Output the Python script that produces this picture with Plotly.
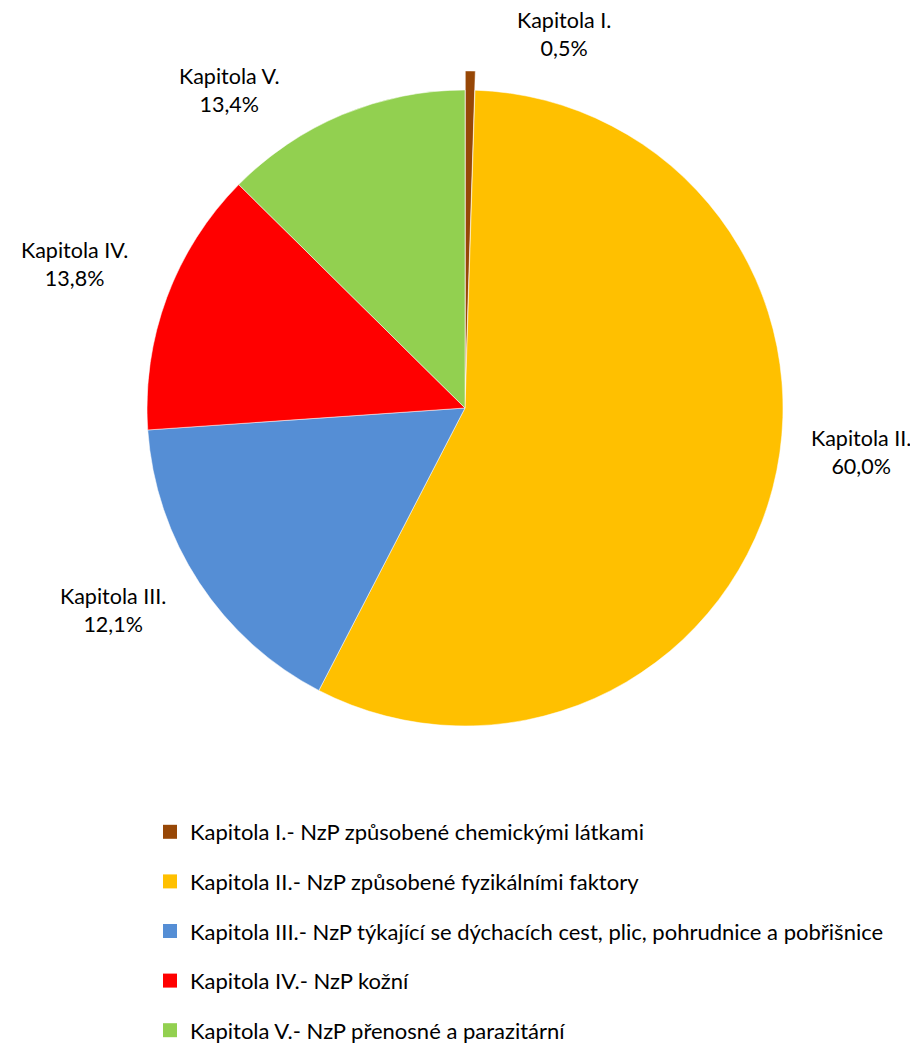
import plotly.graph_objects as go

# Data
short_labels = ["Kapitola I.", "Kapitola II.", "Kapitola III.", "Kapitola IV.", "Kapitola V."]
legend_labels = [
    "Kapitola I.- NzP způsobené chemickými látkami",
    "Kapitola II.- NzP způsobené fyzikálními faktory",
    "Kapitola III.- NzP týkající se dýchacích cest, plic, pohrudnice a pobřišnice",
    "Kapitola IV.- NzP kožní",
    "Kapitola V.- NzP přenosné a parazitární",
]
# slice sizes as drawn in the picture (%)
slice_values = [0.5, 57.1, 16.3, 13.5, 12.6]
# percentages printed on the data labels
label_percents = ["0,5%", "60,0%", "12,1%", "13,8%", "13,4%"]
colors = ["#974706", "#FFC000", "#558ED5", "#FF0000", "#92D050"]
pulls = [0.06, 0, 0, 0, 0]

# page has an 8px body margin, so the figure is drawn 8px smaller and offset
OFF = 8
W, H = 918 - OFF, 1047 - OFF
FONT = "Lato"
FS_LABEL = 21.5
FS_LEGEND = 22


def px_x(x):
    return (x - OFF) / W


def px_y(y):
    return 1 - (y - OFF) / H


fig = go.Figure()

cx, cy, r = 465, 408, 318
half = r * (1 + max(pulls))
fig.add_trace(go.Pie(
    labels=short_labels,
    values=slice_values,
    marker=dict(colors=colors, line=dict(color="white", width=0.5)),
    pull=pulls,
    sort=False,
    direction="clockwise",
    rotation=0,
    textinfo="none",
    hoverinfo="label+percent",
    showlegend=False,
    domain=dict(x=[px_x(cx - half), px_x(cx + half)],
                y=[px_y(cy + half), px_y(cy - half)]),
))

# legend entries
for i, (lab, col) in enumerate(zip(legend_labels, colors)):
    fig.add_trace(go.Scatter(
        x=[None], y=[None], mode="markers", name=lab,
        legendgroup=f"g{i}",
        marker=dict(symbol="square", size=14, color=col, line=dict(width=0)),
        hoverinfo="skip",
    ))

# data label positions (pixel centers of the two-line labels, page coords)
label_pos = [(564, 34), (861, 452), (113, 610), (74, 264), (229, 90)]
annotations = []
for name, pct, (px, py) in zip(short_labels, label_percents, label_pos):
    annotations.append(dict(
        x=px_x(px), y=px_y(py), xref="paper", yref="paper",
        text=f"{name}<br>{pct}", showarrow=False,
        xanchor="center", yanchor="middle", align="center",
        borderpad=0,
        font=dict(family=FONT, size=FS_LABEL, color="#000000"),
    ))

fig.update_layout(
    width=W, height=H,
    margin=dict(l=0, r=0, t=0, b=0, autoexpand=False),
    paper_bgcolor="white", plot_bgcolor="white",
    xaxis=dict(visible=False), yaxis=dict(visible=False),
    annotations=annotations,
    showlegend=True,
    legend=dict(
        x=px_x(150), xanchor="left",
        y=px_y(811), yanchor="top",
        font=dict(family=FONT, size=FS_LEGEND, color="#000000"),
        tracegroupgap=18,
        itemclick=False, itemdoubleclick=False,
        bgcolor="rgba(0,0,0,0)",
    ),
)

fig.write_html("out.html")
